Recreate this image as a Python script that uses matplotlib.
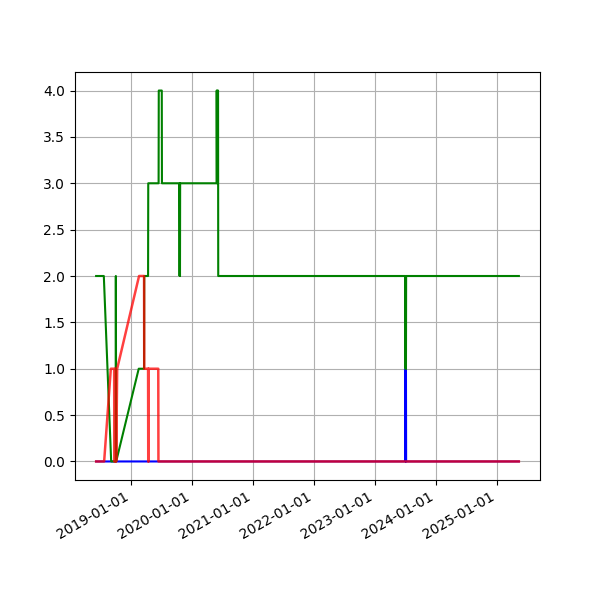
import numpy as np
import pandas as pd
import matplotlib
matplotlib.use("Agg")
import matplotlib.pyplot as plt
import matplotlib.dates as mdates

# series values (date, count)
blue_dates = ["2018-06-06", "2023-07-02", "2023-07-03", "2023-07-04", "2023-07-05",
              "2023-07-06", "2025-05-11"]
blue_vals = [0, 0, 1, 0, 1, 0, 0]

red_dates = ["2018-06-06", "2018-07-24", "2018-09-02", "2018-09-22", "2018-09-23",
             "2018-09-27", "2018-09-29", "2018-10-02", "2018-10-04", "2018-10-10",
             "2019-02-18", "2019-03-20", "2019-03-21", "2019-04-13", "2019-04-14",
             "2019-04-15", "2019-04-16", "2019-04-17", "2019-06-13", "2019-06-14",
             "2025-05-11"]
red_vals = [0, 0, 1, 1, 0, 1, 0, 1, 0, 1,
            2, 2, 1, 1, 0, 1, 0, 1, 1, 0,
            0]

green_dates = ["2018-06-06", "2018-07-22", "2018-09-04", "2018-10-01", "2018-10-02",
               "2018-10-04", "2019-02-16", "2019-03-20", "2019-03-21", "2019-04-13",
               "2019-04-14", "2019-06-15", "2019-06-16", "2019-07-04", "2019-07-05",
               "2019-10-18", "2019-10-19", "2019-10-20", "2019-10-21", "2019-10-22",
               "2020-05-27", "2020-05-28", "2020-05-30", "2020-06-01", "2020-06-05",
               "2020-06-06", "2023-07-02", "2023-07-03", "2023-07-04", "2023-07-05",
               "2023-07-06", "2025-05-11"]
green_vals = [2, 2, 0, 0, 2, 0, 1, 1, 2, 2,
              3, 3, 4, 4, 3, 3, 2, 3, 2, 3,
              3, 4, 3, 4, 4, 2, 2, 1, 2, 1,
              2, 2]

fig, ax = plt.subplots(figsize=(6, 6), dpi=100)

ax.plot(pd.to_datetime(blue_dates), blue_vals, color="b")
ax.plot(pd.to_datetime(green_dates), green_vals, color="g")
ax.plot(pd.to_datetime(red_dates), red_vals, color="r", lw=1.8, alpha=0.75)

ax.xaxis.set_major_locator(mdates.YearLocator())
ax.xaxis.set_major_formatter(mdates.DateFormatter("%Y-%m-%d"))
ax.grid(True)
fig.autofmt_xdate()

fig.savefig("out.png")
